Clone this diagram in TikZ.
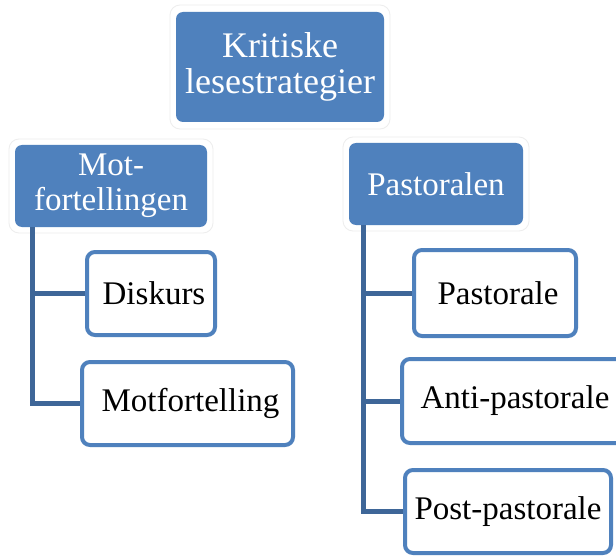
\documentclass[tikz,border=0pt]{standalone}
\usepackage{fontspec}
\setmainfont{Liberation Serif}
\usetikzlibrary{calc}
\definecolor{boxblue}{RGB}{79,129,189}
\definecolor{lineblue}{RGB}{62,102,152}
\tikzset{
  bluebox/.style={rectangle, rounded corners=7pt, fill=boxblue, draw=none, text=white,
    align=center, inner sep=0pt, font=\fontsize{33}{35}\selectfont},
  whitebox/.style={rectangle, rounded corners=8pt, fill=white, draw=boxblue, line width=4pt,
    text=black, align=center, inner sep=0pt, font=\fontsize{33}{35}\selectfont},
  glow/.style={draw=black!7, line width=0.8pt, rounded corners=10pt},
  conn/.style={draw=lineblue, line width=5pt},
}
\begin{document}
\begin{tikzpicture}[x=1pt,y=-1pt]
\useasboundingbox (0,0) rectangle (616,559);
\clip (0,0) rectangle (616,559);
\fill[white] (0,0) rectangle (616,559);
% glows
\draw[glow] (170,5) rectangle (390,129);
\draw[glow] (9,139) rectangle (213,233);
\draw[glow] (343,137) rectangle (529,231);
% header nodes
\node[bluebox, minimum width=208, minimum height=110, font=\fontsize{36}{36}\selectfont] (top) at (280,67) {Kritiske\\lesestrategier};
\node[bluebox, minimum width=192, minimum height=82] (mot) at (111,186) {Mot-\\fortellingen};
\node[bluebox, minimum width=174, minimum height=82] (past) at (436,184) {Pastoralen};
% child nodes
\node[whitebox, minimum width=128, minimum height=83] (disk) at (151,293.5) {\hspace*{6pt}Diskurs};
\node[whitebox, minimum width=211, minimum height=83] (motf) at (187.5,403.5) {\hspace*{6pt}Motfortelling};
\node[whitebox, minimum width=162, minimum height=86] (pas) at (495,293) {\hspace*{6pt}Pastorale};
\node[whitebox, minimum width=226, minimum height=84] (anti) at (515,401) {Anti-pastorale};
\node[whitebox, minimum width=206, minimum height=83] (post) at (508,511.5) {Post-pastorale};
% connectors
\coordinate (ml) at ($(mot.south west)+(18,0)$);
\coordinate (pl) at ($(past.south west)+(15,0)$);
\draw[conn] (ml) |- (disk.west);
\draw[conn] (ml) |- (motf.west);
\draw[conn] (pl) |- (pas.west);
\draw[conn] (pl) |- (anti.west);
\draw[conn] (pl) |- (post.west);
\end{tikzpicture}
\end{document}
